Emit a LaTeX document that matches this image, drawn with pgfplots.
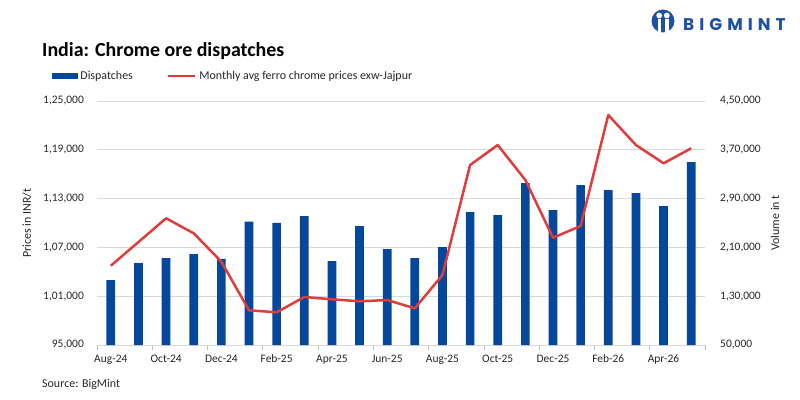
\documentclass[border=0pt]{standalone}
\usepackage{fontspec}
\setmainfont{Carlito}
\newfontfamily\logofont{Poppins}
\usepackage{pgfplots}
\pgfplotsset{compat=1.18}
\definecolor{barblue}{HTML}{05479A}
\definecolor{redline}{HTML}{E03C3C}
\definecolor{gridgray}{HTML}{D9D9D9}
\definecolor{tickgray}{HTML}{BFBFBF}
\definecolor{txt}{HTML}{262626}
\definecolor{logoblue}{HTML}{1F50A5}
\pgfplotstableread{
idx price volume
0 104750 156500
1 107660 184400
2 110580 192600
3 108730 199100
4 105240 191000
5 99270 252100
6 99020 250400
7 100900 261400
8 100620 187700
9 100370 245000
10 100530 207300
11 99510 192600
12 103610 210600
13 117130 268000
14 119590 263000
15 115290 315500
16 108190 271300
17 109630 312200
18 123280 304000
19 119590 299100
20 117340 277800
21 119180 350000
}\datatable
\begin{document}
\begin{tikzpicture}[x=1bp,y=1bp]
\useasboundingbox (0,0) rectangle (800,399);
% bars (volume, right axis)
\begin{axis}[
  at={(97bp,54bp)}, anchor=south west,
  scale only axis, width=608bp, height=244bp,
  xmin=-0.5, xmax=21.5, ymin=50000, ymax=450000,
  scaled y ticks=false,
  axis x line*=bottom, axis y line*=right,
  axis line style={-},
  x axis line style={draw=gridgray, line width=0.8bp},
  y axis line style={draw=none},
  xtick={-0.5,1.5,...,21.5},
  xticklabels={},
  x tick style={draw=tickgray, line width=0.8bp},
  major tick length=5bp,
  tick align=outside,
  extra x ticks={0,2,...,20},
  extra x tick labels={Aug-24,Oct-24,Dec-24,Feb-25,Apr-25,Jun-25,Aug-25,Oct-25,Dec-25,Feb-26,Apr-26},
  extra x tick style={major tick length=0pt},
  ytick={50000,130000,210000,290000,370000,450000},
  yticklabels={{50,000},{1,30,000},{2,10,000},{2,90,000},{3,70,000},{4,50,000}},
  major y tick style={draw=none},
  ymajorgrids, grid style={draw=gridgray, line width=0.8bp},
  tick label style={font=\fontsize{11.5}{13}\selectfont, text=txt},
  xticklabel style={anchor=base, inner sep=0pt, yshift=-17bp},
  yticklabel style={anchor=west, inner sep=0pt, xshift=10bp},
  ylabel={Volume in t},
  ylabel style={at={(axis description cs:1.1151,0.5)}, anchor=center, font=\fontsize{12}{14}\selectfont, text=txt},
  ybar, bar width=8.7bp,
  clip=false,
]
\addplot[fill=barblue, draw=none] table[x=idx, y=volume] {\datatable};
\end{axis}
% line (price, left axis)
\begin{axis}[
  at={(97bp,54bp)}, anchor=south west,
  scale only axis, width=608bp, height=244bp,
  xmin=-0.5, xmax=21.5, ymin=95000, ymax=125000,
  scaled y ticks=false,
  axis x line=none, axis y line*=left,
  axis line style={-},
  y axis line style={draw=none},
  ytick={95000,101000,107000,113000,119000,125000},
  yticklabels={{95,000},{1,01,000},{1,07,000},{1,13,000},{1,19,000},{1,25,000}},
  major y tick style={draw=none},
  tick label style={font=\fontsize{11.5}{13}\selectfont, text=txt},
  yticklabel style={anchor=east, inner sep=0pt, xshift=-13bp},
  ylabel={Prices in INR/t},
  ylabel style={at={(axis description cs:-0.1151,0.5)}, anchor=center, font=\fontsize{12}{14}\selectfont, text=txt},
  clip=false,
  legend columns=2,
  legend style={at={(-0.074,1.1025)}, anchor=west, draw=none, fill=none,
    inner sep=0pt, outer sep=0pt, font=\fontsize{12}{14}\selectfont, text=txt,
    nodes={inner sep=0pt},
    /tikz/column 1/.style={column sep=3bp},
    /tikz/column 2/.style={column sep=34bp},
    /tikz/column 3/.style={column sep=3bp}},
]
\addlegendimage{legend image code/.code={\fill[barblue] (0bp,-2.5bp) rectangle (25bp,2.5bp);}}
\addlegendentry{Dispatches}
\addplot[redline, line width=2.5bp, line join=round, mark=none,
  legend image code/.code={\draw[redline, line width=2.5bp] (0bp,0bp) -- (27bp,0bp);}]
  table[x=idx, y=price] {\datatable};
\addlegendentry{Monthly avg ferro chrome prices exw-Jajpur}
\end{axis}
% title, source
\node[anchor=base west, inner sep=0pt, font=\bfseries\fontsize{20}{22}\selectfont, text=black] at (42,343) {India: Chrome ore dispatches};
\node[anchor=west, inner sep=0pt, font=\fontsize{12}{14}\selectfont, text=txt] at (42,15) {Source: BigMint};
% logo
\fill[logoblue] (663,378) circle (11.5);
\fill[white] (659.2,383.5) circle (2.9);
\fill[white] (666.8,383.5) circle (2.9);
\fill[white] (657.5,367) -- (660.8,367) -- (660.8,380) -- (657.5,380) -- cycle;
\fill[white] (665.2,367) -- (668.5,367) -- (668.5,380) -- (665.2,380) -- cycle;
\node[anchor=base west, inner sep=0pt, text=logoblue, font=\logofont\bfseries\fontsize{17}{17}\selectfont] at (683,369) {B\hspace{5bp}I\hspace{5bp}G\hspace{5bp}M\hspace{5bp}I\hspace{5bp}N\hspace{5bp}T};
\end{tikzpicture}
\end{document}
